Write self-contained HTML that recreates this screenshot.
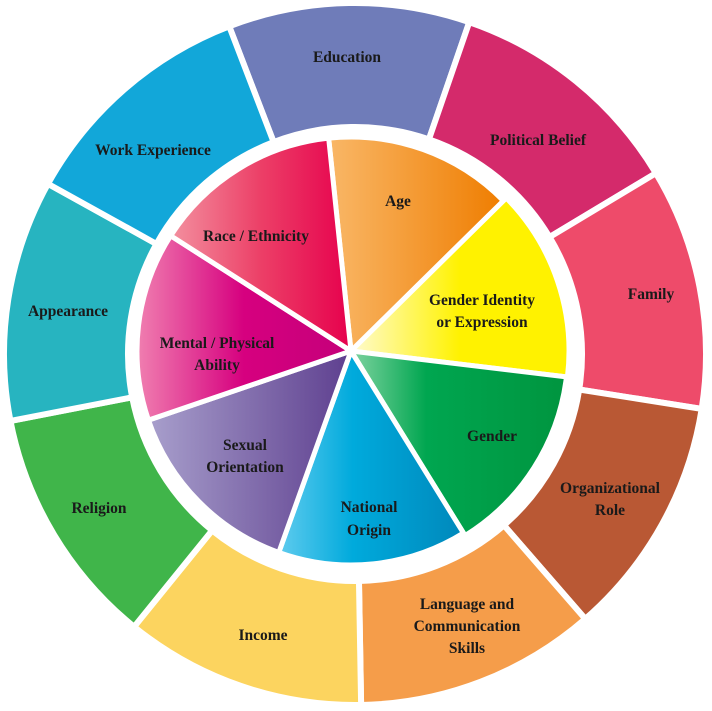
<!DOCTYPE html>
<html><head><meta charset="utf-8"><style>
html,body{margin:0;padding:0;background:#fff;width:712px;height:711px;overflow:hidden}
</style></head><body>
<svg id="s" width="712" height="711" viewBox="0 0 712 711">
<defs>
<linearGradient id="gAge" x1="0" x2="1"><stop offset="0" stop-color="#f9b767"/><stop offset="1" stop-color="#ef7d00"/></linearGradient>
<linearGradient id="gGI" x1="0" x2="1"><stop offset="0" stop-color="#fffbd0"/><stop offset="0.5" stop-color="#fff200"/><stop offset="1" stop-color="#fff200"/></linearGradient>
<linearGradient id="gG" x1="0" x2="1"><stop offset="0" stop-color="#7fd3a0"/><stop offset="0.35" stop-color="#00a650"/><stop offset="1" stop-color="#00953f"/></linearGradient>
<linearGradient id="gN" x1="0" x2="1"><stop offset="0" stop-color="#5fcbee"/><stop offset="0.4" stop-color="#00aadc"/><stop offset="1" stop-color="#0088bb"/></linearGradient>
<linearGradient id="gS" x1="0" x2="1"><stop offset="0" stop-color="#a89fcc"/><stop offset="1" stop-color="#5e3f8f"/></linearGradient>
<linearGradient id="gM" x1="0" x2="1"><stop offset="0" stop-color="#f07fb0"/><stop offset="0.5" stop-color="#d6007f"/><stop offset="1" stop-color="#c4007a"/></linearGradient>
<linearGradient id="gR" x1="0" x2="1"><stop offset="0" stop-color="#f3909f"/><stop offset="0.5" stop-color="#ec3f67"/><stop offset="1" stop-color="#e6004d"/></linearGradient>
</defs>
<g id="outer"></g><g id="inner"></g>
<g font-family="'Liberation Serif', 'DejaVu Serif', serif" font-weight="bold" font-size="15.5" fill="#1a1a1a" text-anchor="middle">
<text x="347" y="62">Education</text>
<text x="538" y="145">Political Belief</text>
<text x="651" y="299">Family</text>
<text x="610" y="493">Organizational</text><text x="610" y="515">Role</text>
<text x="467" y="609">Language and</text><text x="467" y="631">Communication</text><text x="467" y="653">Skills</text>
<text x="263" y="640">Income</text>
<text x="99" y="513">Religion</text>
<text x="68" y="316">Appearance</text>
<text x="153" y="155">Work Experience</text>
<text x="398" y="206">Age</text>
<text x="482" y="305">Gender Identity</text><text x="482" y="327">or Expression</text>
<text x="492" y="441">Gender</text>
<text x="369" y="512">National</text><text x="369" y="535">Origin</text>
<text x="245" y="450">Sexual</text><text x="245" y="472">Orientation</text>
<text x="217" y="348">Mental / Physical</text><text x="217" y="370">Ability</text>
<text x="256" y="241">Race / Ethnicity</text>
</g>
</svg>
<script>
function pt(cx,cy,r,a){a=(a-90)*Math.PI/180;return [cx+r*Math.cos(a),cy+r*Math.sin(a)];}
function ann(cx,cy,R,r,a0,a1){var p1=pt(cx,cy,R,a0),p2=pt(cx,cy,R,a1),p3=pt(cx,cy,r,a1),p4=pt(cx,cy,r,a0);
return "M"+p1+"A"+R+","+R+" 0 0 1 "+p2+"L"+p3+"A"+r+","+r+" 0 0 0 "+p4+"Z";}
function pie(cx,cy,R,a0,a1){var p1=pt(cx,cy,R,a0),p2=pt(cx,cy,R,a1);return "M"+cx+","+cy+"L"+p1+"A"+R+","+R+" 0 0 1 "+p2+"Z";}
var ns="http://www.w3.org/2000/svg";
var oc=["#6f7cb9","#d42a6b","#ee4b6a","#b95834","#f59d4a","#fcd45f","#40b54a","#27b4c0","#12a7d9"];
var o=document.getElementById("outer");
for(var i=0;i<9;i++){var e=document.createElementNS(ns,"path");e.setAttribute("d",ann(355,354,351,227,-21+40*i,19+40*i));
e.setAttribute("fill",oc[i]);e.setAttribute("stroke","#fff");e.setAttribute("stroke-width","6");o.appendChild(e);}
var ic=["url(#gAge)","url(#gGI)","url(#gG)","url(#gN)","url(#gS)","url(#gM)","url(#gR)"];
var radii=[214,218,217,214,214,214,214];
var n=document.getElementById("inner");
for(var i=0;i<7;i++){var e=document.createElementNS(ns,"path");e.setAttribute("d",pie(351,351,radii[i],-6+51.43*i,-6+51.43*(i+1)));
e.setAttribute("fill",ic[i]);e.setAttribute("stroke","#fff");e.setAttribute("stroke-width","5");n.appendChild(e);}
</script>
</body></html>
